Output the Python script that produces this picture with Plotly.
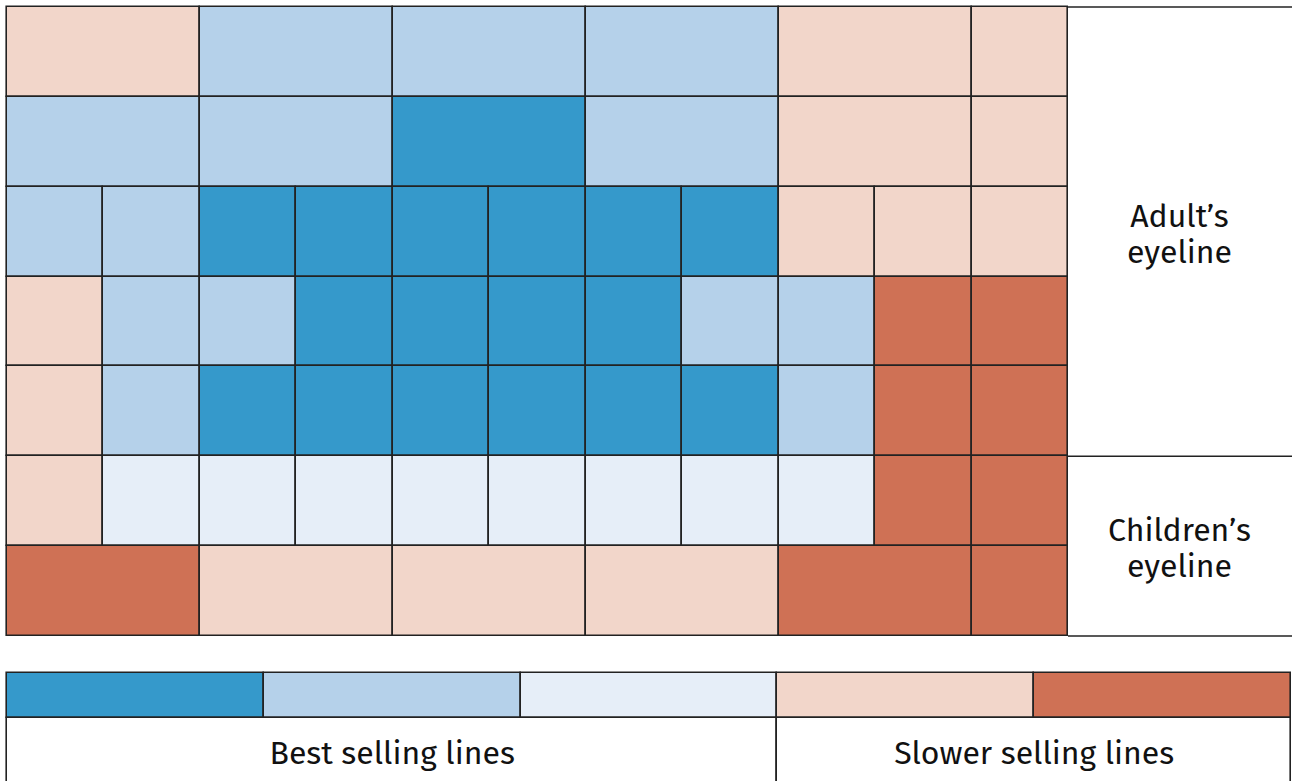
import plotly.graph_objects as go

# ---------------- data ----------------
# level codes: 0 = dark blue, 1 = light blue, 2 = pale blue, 3 = light salmon, 4 = dark salmon
row_spans = [
    [2, 2, 2, 2, 2, 1],
    [2, 2, 2, 2, 2, 1],
    [1, 1, 1, 1, 1, 1, 1, 1, 1, 1, 1],
    [1, 1, 1, 1, 1, 1, 1, 1, 1, 1, 1],
    [1, 1, 1, 1, 1, 1, 1, 1, 1, 1, 1],
    [1, 1, 1, 1, 1, 1, 1, 1, 1, 1, 1],
    [2, 2, 2, 2, 2, 1],
]
row_levels = [
    [3, 1, 1, 1, 3, 3],
    [1, 1, 0, 1, 3, 3],
    [1, 1, 0, 0, 0, 0, 0, 0, 3, 3, 3],
    [3, 1, 1, 0, 0, 0, 0, 1, 1, 4, 4],
    [3, 1, 0, 0, 0, 0, 0, 0, 1, 4, 4],
    [3, 2, 2, 2, 2, 2, 2, 2, 2, 4, 4],
    [4, 3, 3, 3, 4, 4],
]
eyeline_labels = [["Adult’s", "eyeline"], ["Children’s", "eyeline"]]
eyeline_rows = [5, 2]          # number of shelf rows in each eyeline zone
legend_levels = [0, 1, 2, 3, 4]
legend_groups = ["Best selling lines", "Slower selling lines"]
legend_group_sizes = [3, 2]

level_colors = ["#3599cb", "#b5d1ea", "#e6eef8", "#f2d6ca", "#cf7155"]

# ---------------- layout constants (pixels) ----------------
W, H = 1292, 781
GX0, GX1 = 7, 1068
GY0, GY1 = 7, 636
PANEL_R = 1291
NCOLS = 11
NROWS = len(row_spans)
CW = (GX1 - GX0) / NCOLS
RH = (GY1 - GY0) / NROWS
LX0, LX1 = 7, 1291
LY0, LH = 673, 45
LW = (LX1 - LX0) / len(legend_levels)
LINE_GAP = 36      # px between the two lines of an eyeline label
TEXT_SHIFT = 5     # px downward nudge of the eyeline labels
FS = 32

EDGE = "#222222"
FONT = "Fira Sans, Noto Sans, Open Sans, sans-serif"

fig = go.Figure()

# ---------------- shelf cells ----------------
xs, bases, ys, cols = [], [], [], []
for r, (spans, levels) in enumerate(zip(row_spans, row_levels)):
    start = 0
    for s, lv in zip(spans, levels):
        xs.append(s)
        bases.append(start)
        ys.append(r + 0.5)
        cols.append(level_colors[lv])
        start += s
fig.add_trace(go.Bar(
    x=xs, base=bases, y=ys, orientation="h", width=1,
    marker=dict(color=cols, line=dict(color=EDGE, width=1.6)),
    hoverinfo="skip", showlegend=False, xaxis="x", yaxis="y",
))

# ---------------- eyeline panel ----------------
panel_right = (PANEL_R - GX0) / CW + 0.2
bounds = [0]
for n in eyeline_rows:
    bounds.append(bounds[-1] + n)
lx, ly = [], []
for b in bounds:
    lx += [NCOLS, panel_right, None]
    ly += [b, b, None]
fig.add_trace(go.Scatter(
    x=lx, y=ly, mode="lines", line=dict(color=EDGE, width=1.6),
    hoverinfo="skip", showlegend=False, xaxis="x", yaxis="y",
))
panel_cx = NCOLS + ((PANEL_R - GX0) / CW - NCOLS) / 2
tx, ty, tt = [], [], []
for i, lines in enumerate(eyeline_labels):
    mid = (bounds[i] + bounds[i + 1]) / 2 + TEXT_SHIFT / RH
    n = len(lines)
    for k, line in enumerate(lines):
        tx.append(panel_cx)
        ty.append(mid + (k - (n - 1) / 2) * LINE_GAP / RH)
        tt.append(line)
fig.add_trace(go.Scatter(
    x=tx, y=ty, mode="text", text=tt,
    textfont=dict(family=FONT, size=FS, color="#111111"),
    hoverinfo="skip", showlegend=False, xaxis="x", yaxis="y",
))

# ---------------- legend strip ----------------
fig.add_trace(go.Bar(
    x=[1] * len(legend_levels), base=list(range(len(legend_levels))),
    y=[0.5] * len(legend_levels), orientation="h", width=1,
    marker=dict(color=[level_colors[l] for l in legend_levels],
                line=dict(color=EDGE, width=1.6)),
    hoverinfo="skip", showlegend=False, xaxis="x2", yaxis="y2",
))
gstarts = [0]
for n in legend_group_sizes[:-1]:
    gstarts.append(gstarts[-1] + n)
fig.add_trace(go.Bar(
    x=legend_group_sizes, base=gstarts, y=[2.5] * len(legend_groups),
    orientation="h", width=3,
    marker=dict(color="white", line=dict(color=EDGE, width=1.6)),
    hoverinfo="skip", showlegend=False, xaxis="x2", yaxis="y2",
))
fig.add_trace(go.Scatter(
    x=[g + n / 2 for g, n in zip(gstarts, legend_group_sizes)],
    y=[1.85] * len(legend_groups), mode="text", text=legend_groups,
    textfont=dict(family=FONT, size=FS, color="#111111"),
    hoverinfo="skip", showlegend=False, xaxis="x2", yaxis="y2",
))

hidden = dict(visible=False, showgrid=False, zeroline=False, fixedrange=True)
fig.update_layout(
    width=W, height=H, margin=dict(l=0, r=0, t=0, b=0),
    paper_bgcolor="white", plot_bgcolor="rgba(0,0,0,0)",
    barmode="overlay", bargap=0, showlegend=False,
    xaxis=dict(domain=[0, 1], range=[-GX0 / CW, (W - GX0) / CW], anchor="y", **hidden),
    yaxis=dict(domain=[0, 1], range=[(H - GY0) / RH, -GY0 / RH], anchor="x", **hidden),
    xaxis2=dict(domain=[0, 1], range=[-LX0 / LW, (W - LX0) / LW], anchor="y2", **hidden),
    yaxis2=dict(domain=[0, 1], range=[(H - LY0) / LH, -LY0 / LH], anchor="x2", **hidden),
)

fig.write_html(
    "out.html",
    config={"displayModeBar": False},
    post_script="document.body.style.margin='0';document.body.style.overflow='hidden';",
)
